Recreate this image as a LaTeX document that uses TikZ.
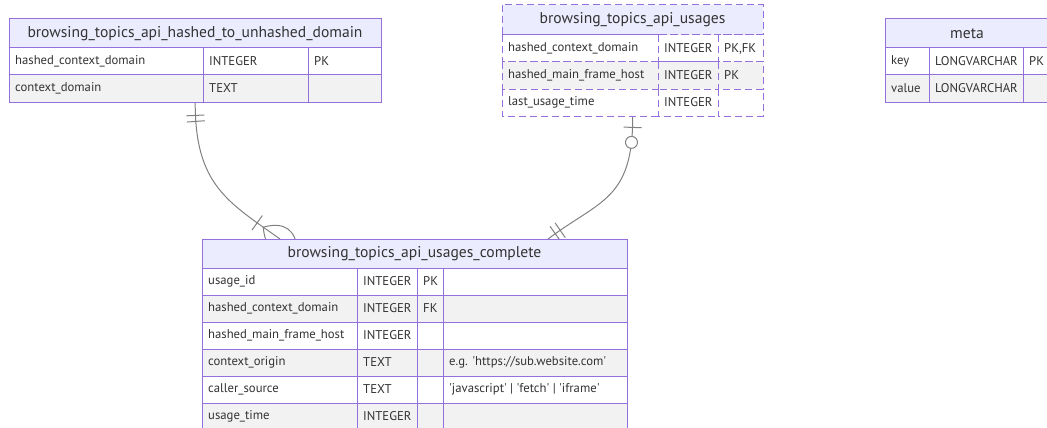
\documentclass[tikz,border=0pt]{standalone}
\usepackage{fontspec}
\setmainfont{PT Sans}
\usetikzlibrary{decorations.markings}
\definecolor{erborder}{HTML}{9370DB}
\definecolor{erhead}{HTML}{ECECFF}
\definecolor{ereven}{HTML}{F2F2F2}
\definecolor{ertext}{HTML}{333333}
\definecolor{erline}{HTML}{808080}
% one table row: top, bottom, cell style, list of x0/x1/text/name
\newcommand\errow[4]{%
  \foreach \xa/\xb/\tx/\nm in {#4} {
    \path[#3] (\xa,#1) rectangle (\xb,#2);
    \node[txt] (\nm) at ({\xa+6},{(#1+#2)/2}) {\tx};
  }}
\newcommand\q{\textquotesingle}
\begin{document}
\begin{tikzpicture}[x=1pt,y=-1pt,
  box/.style={draw=erborder, line width=1pt},
  head/.style={box, fill=erhead},
  oddrow/.style={box, fill=white},
  evenrow/.style={box, fill=ereven},
  dsh/.style={dash pattern=on 7pt off 4pt},
  title/.style={text=ertext, font=\fontsize{15.6}{17}\selectfont, inner sep=0pt},
  txt/.style={text=ertext, font=\fontsize{12.7}{14}\selectfont, anchor=west, inner sep=0pt},
  rel/.style={draw=erline, line width=1pt},
  mk/.style={draw=erline, line width=1pt, solid},
  area/.style={inner sep=0pt, anchor=north west},
]
\useasboundingbox (0,0) rectangle (1047,428);
\clip (0,0) rectangle (1047,428);

% table outlines used as connector anchors
\node[area, minimum width=372, minimum height=83] (t1) at (9,19) {};
\node[area, minimum width=261, minimum height=111] (tu) at (502,5) {};
\node[area, minimum width=425, minimum height=191] (tc) at (202,239) {};
\coordinate (c1end) at (280,239);
\coordinate (c2end) at (548,239);

% relationships (drawn first so that the tables cover their ends)
\draw[rel, postaction={decorate}, decoration={markings,
    mark=at position 13pt with {\draw[mk] (0pt,-9pt) -- (0pt,9pt);},
    mark=at position 19pt with {\draw[mk] (0pt,-9pt) -- (0pt,9pt);},
    mark=at position -28pt with {\draw[mk] (0pt,-9pt) -- (0pt,9pt);},
    mark=at position -0.5pt with {\draw[mk] (-20pt,0pt) .. controls (-6pt,17pt) and (8pt,17pt) .. (22pt,0pt) .. controls (8pt,-17pt) and (-6pt,-17pt) .. cycle;}}]
  (t1.south) .. controls (195,185) and (228,202) .. (c1end);
\draw[rel, postaction={decorate}, decoration={markings,
    mark=at position 11pt with {\draw[mk] (0pt,-9pt) -- (0pt,9pt);},
    mark=at position 26pt with {\draw[mk, fill=white] (0pt,0pt) circle (6pt);},
    mark=at position -9pt with {\draw[mk] (0pt,-9pt) -- (0pt,9pt);},
    mark=at position -15pt with {\draw[mk] (0pt,-9pt) -- (0pt,9pt);}}]
  (tu.south) .. controls (633,200) and (600,200) .. (c2end);

% browsing_topics_api_hashed_to_unhashed_domain
\path[head] (9,19) rectangle (381,48);
\node[title] (t1h) at (195,33.5) {browsing\_topics\_api\_hashed\_to\_unhashed\_domain};
\errow{48}{75}{oddrow}{9/203/hashed\_context\_domain/t1a, 203/308/INTEGER/t1b, 308/381/PK/t1c}
\errow{75}{102}{evenrow}{9/203/context\_domain/t1d, 203/308/TEXT/t1e, 308/381//t1f}

% browsing_topics_api_usages
\path[head, dsh] (502,5) rectangle (763,35);
\node[title] (tuh) at (632.5,20) {browsing\_topics\_api\_usages};
\errow{35}{62}{oddrow, dsh}{502/658/hashed\_context\_domain/tua, 658/718/INTEGER/tub, 718/763/{PK,FK}/tuc}
\errow{62}{89}{evenrow, dsh}{502/658/hashed\_main\_frame\_host/tud, 658/718/INTEGER/tue, 718/763/PK/tuf}
\errow{89}{116}{oddrow, dsh}{502/658/last\_usage\_time/tug, 658/718/INTEGER/tuh2, 718/763//tui}

% meta
\path[head] (885,19) rectangle (1049,48);
\node[title] (tmh) at (967,33.5) {meta};
\errow{48}{75}{oddrow}{885/929/key/tma, 929/1023/LONGVARCHAR/tmb, 1023/1049/PK/tmc}
\errow{75}{102}{evenrow}{885/929/value/tmd, 929/1023/LONGVARCHAR/tme, 1023/1049//tmf}

% browsing_topics_api_usages_complete
\path[head] (202,239) rectangle (627,268);
\node[title] (tch) at (414.5,253.5) {browsing\_topics\_api\_usages\_complete};
\errow{268}{295}{oddrow}{202/357/usage\_id/tca, 357/417/INTEGER/tcb, 417/443/PK/tcc, 443/627//tcd}
\errow{295}{322}{evenrow}{202/357/hashed\_context\_domain/tce, 357/417/INTEGER/tcf, 417/443/FK/tcg, 443/627//tch2}
\errow{322}{349}{oddrow}{202/357/hashed\_main\_frame\_host/tci, 357/417/INTEGER/tcj, 417/443//tck, 443/627//tcl}
\errow{349}{376}{evenrow}{202/357/context\_origin/tcm, 357/417/TEXT/tcn, 417/443//tco, 443/627/{e.g. \q https://sub.website.com\q}/tcp}
\errow{376}{403}{oddrow}{202/357/caller\_source/tcq, 357/417/TEXT/tcr, 417/443//tcs, 443/627/{\q javascript\q{} | \q fetch\q{} | \q iframe\q}/tct}
\errow{403}{430}{evenrow}{202/357/usage\_time/tcu, 357/417/INTEGER/tcv, 417/443//tcw, 443/627//tcx}
\end{tikzpicture}
\end{document}
